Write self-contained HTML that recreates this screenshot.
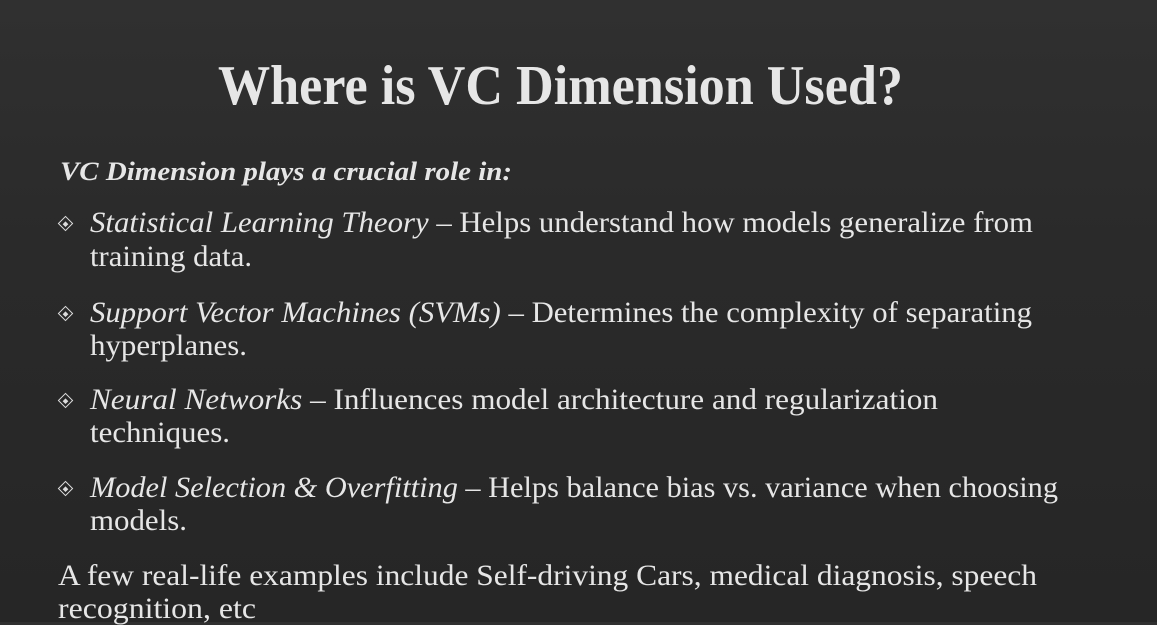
<!DOCTYPE html>
<html><head><meta charset="utf-8"><style>
html,body{margin:0;padding:0}
body{width:1157px;height:622px;overflow:hidden;position:relative;background:linear-gradient(180deg,#303030 0%,#2a2a2a 40%,#262626 100%);font-family:"Liberation Serif",serif;color:#e6e6e6}
.t{position:absolute;white-space:nowrap;line-height:1;transform-origin:0 0}
.b{font-size:30px}
.bul{position:absolute;width:9px;height:9px;border:1.5px solid #ddd;transform:rotate(45deg)}
.bul::after{content:"";position:absolute;left:2.5px;top:2.5px;width:4px;height:4px;background:#ddd}
</style></head><body>
<div class="t" data-l="218" data-r="903" style="top:58px;font-size:56px;font-weight:bold">Where is VC Dimension Used?</div>
<div class="t" data-l="60" data-r="512" style="top:159px;font-size:26px;font-weight:bold;font-style:italic">VC Dimension plays a crucial role in:</div>

<div class="bul" style="left:60px;top:218px"></div>
<div class="t b" data-l="90" data-r="1033" data-b="233"><i>Statistical Learning Theory</i> – Helps understand how models generalize from</div>
<div class="t b" data-l="90" data-r="252" data-b="267">training data.</div>

<div class="bul" style="left:60px;top:308px"></div>
<div class="t b" data-l="90" data-r="1032" data-b="323"><i>Support Vector Machines (SVMs)</i> – Determines the complexity of separating</div>
<div class="t b" data-l="90" data-r="247" data-b="356">hyperplanes.</div>

<div class="bul" style="left:60px;top:395px"></div>
<div class="t b" data-l="90" data-r="938" data-b="410"><i>Neural Networks</i> – Influences model architecture and regularization</div>
<div class="t b" data-l="90" data-r="230" data-b="443">techniques.</div>

<div class="bul" style="left:60px;top:483px"></div>
<div class="t b" data-l="90" data-r="1058" data-b="498"><i>Model Selection &amp; Overfitting</i> – Helps balance bias vs. variance when choosing</div>
<div class="t b" data-l="90" data-r="187" data-b="531">models.</div>

<div class="t b" data-l="58" data-r="1037" data-b="586">A few real-life examples include Self-driving Cars, medical diagnosis, speech</div>
<div class="t b" data-l="58" data-r="256" data-b="619">recognition, etc</div>
<script>
document.querySelectorAll('.t').forEach(function(el){
  var l=+el.dataset.l,r=+el.dataset.r;
  el.style.left=l+'px';
  if(el.dataset.b){el.style.top=(+el.dataset.b-25.1)+'px';}
  var w=el.getBoundingClientRect().width;
  if(w>0) el.style.transform='scaleX('+((r-l)/w)+')';
});
</script>
</body></html>
